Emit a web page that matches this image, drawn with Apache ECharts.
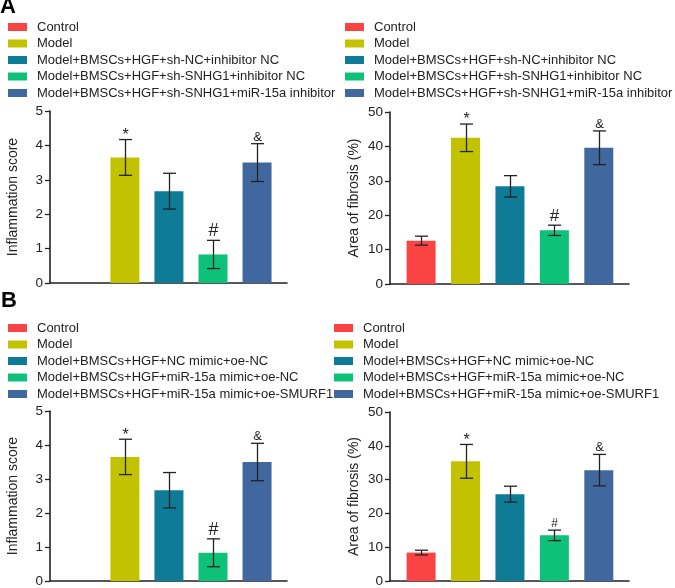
<!DOCTYPE html>
<html>
<head>
<meta charset="utf-8">
<script src="https://cdn.jsdelivr.net/npm/echarts@6/dist/echarts.min.js"></script>
<style>
html, body { margin: 0; padding: 0; background: #fff; }
#chart { width: 675px; height: 588px; }
</style>
</head>
<body>
<div id="chart"></div>
<script>
// groups shown in the legends
var groupsA = ['Control', 'Model', 'Model+BMSCs+HGF+sh-NC+inhibitor NC',
	'Model+BMSCs+HGF+sh-SNHG1+inhibitor NC', 'Model+BMSCs+HGF+sh-SNHG1+miR-15a inhibitor'];
var groupsB = ['Control', 'Model', 'Model+BMSCs+HGF+NC mimic+oe-NC',
	'Model+BMSCs+HGF+miR-15a mimic+oe-NC', 'Model+BMSCs+HGF+miR-15a mimic+oe-SMURF1'];
var colors = ['#FA4444', '#C2C200', '#0E7C97', '#0DC179', '#41679F'];

// mean and SD (null = no bar)
var inflMeanA = [null, 3.65, 2.67, 0.83, 3.50];
var inflSdA = [null, 0.52, 0.52, 0.41, 0.55];
var fibMeanA = [12.6, 42.5, 28.4, 15.6, 39.6];
var fibSdA = [1.3, 4.0, 3.1, 1.5, 4.9];
var inflMeanB = [null, 3.65, 2.67, 0.83, 3.50];
var inflSdB = [null, 0.52, 0.52, 0.41, 0.55];
var fibMeanB = [8.4, 35.4, 25.7, 13.5, 32.8];
var fibSdB = [0.7, 5.0, 2.35, 1.55, 4.65];
var marks = ['', '*', '', '#', '&'];

var font = 'Liberation Sans, Arial, Helvetica, sans-serif';
var ink = '#222';

var panels = [
	{ groups: groupsA, mean: inflMeanA, sd: inflSdA, yMax: 5, yStep: 1, name: 'Inflammation score',
	  grid: { left: 50, top: 111, width: 237, height: 172 }, legend: { left: 8, top: 19 },
	  nameGap: 30, markSize: { '*': 16, '#': 18, '&': 13 } },
	{ groups: groupsA, mean: fibMeanA, sd: fibSdA, yMax: 50, yStep: 10, name: 'Area of fibrosis (%)',
	  grid: { left: 390, top: 112, width: 239, height: 172 }, legend: { left: 345, top: 19 },
	  nameGap: 29, markSize: { '*': 16, '#': 17, '&': 13 } },
	{ groups: groupsB, mean: inflMeanB, sd: inflSdB, yMax: 5, yStep: 1, name: 'Inflammation score',
	  grid: { left: 50, top: 411, width: 237, height: 172 }, legend: { left: 8, top: 320 },
	  nameGap: 30, markSize: { '*': 16, '#': 18, '&': 13 } },
	{ groups: groupsB, mean: fibMeanB, sd: fibSdB, yMax: 50, yStep: 10, name: 'Area of fibrosis (%)',
	  grid: { left: 390, top: 412, width: 239, height: 171 }, legend: { left: 334, top: 320 },
	  nameGap: 29, markSize: { '*': 16, '#': 12, '&': 13 } }
];

function errorBars(p) {
	return function (params, api) {
		var x = api.value(0), m = api.value(1), s = api.value(2);
		var top = api.coord([x, m + s]);
		var bot = api.coord([x, m - s]);
		var cx = Math.round(top[0]) + 0.5, hw = 6.5;
		var ls = { stroke: ink, lineWidth: 1.3 };
		var kids = [
			{ type: 'line', shape: { x1: cx, y1: top[1], x2: cx, y2: bot[1] }, style: ls },
			{ type: 'line', shape: { x1: cx - hw, y1: top[1], x2: cx + hw, y2: top[1] }, style: ls },
			{ type: 'line', shape: { x1: cx - hw, y1: bot[1], x2: cx + hw, y2: bot[1] }, style: ls }
		];
		var mk = marks[x];
		if (mk) {
			kids.push({
				type: 'text',
				style: {
					text: mk, x: cx, y: top[1] + (mk === '*' ? 4 : 0),
					align: 'center', verticalAlign: 'bottom',
					fontSize: p.markSize[mk], fontFamily: font, fill: ink
				}
			});
		}
		return { type: 'group', children: kids };
	};
}

var axisLine = { show: true, onZero: false, lineStyle: { color: ink, width: 1.6 } };
var option = {
	animation: false,
	backgroundColor: '#fff',
	title: [
		{ text: 'A', left: 0, top: -4, padding: 0, textStyle: { fontSize: 22, fontWeight: 'bold', color: '#000', fontFamily: font } },
		{ text: 'B', left: 1, top: 290, padding: 0, textStyle: { fontSize: 22, fontWeight: 'bold', color: '#000', fontFamily: font } }
	],
	grid: [], xAxis: [], yAxis: [], legend: [], series: []
};

panels.forEach(function (p, i) {
	option.grid.push(p.grid);
	option.xAxis.push({
		type: 'value', gridIndex: i, min: -0.7, max: 4.68,
		axisLine: axisLine, axisTick: { show: false }, axisLabel: { show: false }, splitLine: { show: false }
	});
	option.yAxis.push({
		type: 'value', gridIndex: i, min: 0, max: p.yMax, interval: p.yStep,
		name: p.name, nameLocation: 'middle', nameGap: p.nameGap,
		nameTextStyle: { fontSize: 14, color: ink, fontFamily: font },
		axisLine: axisLine,
		axisTick: { show: true, length: 5, lineStyle: { color: ink, width: 1.3 } },
		axisLabel: { fontSize: 13.5, color: ink, margin: 7, fontFamily: font },
		splitLine: { show: false }
	});
	option.legend.push({
		orient: 'vertical', left: p.legend.left, top: p.legend.top, padding: 0,
		data: p.groups, icon: 'rect', itemWidth: 19, itemHeight: 8, itemGap: 0.5,
		selectedMode: false,
		textStyle: { fontSize: 13, color: ink, fontFamily: font, lineHeight: 16, padding: [0, 0, 0, 5] }
	});
	p.groups.forEach(function (g, j) {
		option.series.push({
			type: 'bar', name: g, xAxisIndex: i, yAxisIndex: i,
			barWidth: 29, barGap: '-100%', silent: true,
			itemStyle: { color: colors[j] },
			data: p.mean[j] == null ? [] : [[j, p.mean[j]]]
		});
	});
	var rows = [];
	p.mean.forEach(function (m, j) {
		if (m != null) rows.push([j, m, p.sd[j]]);
	});
	option.series.push({
		type: 'custom', xAxisIndex: i, yAxisIndex: i, z: 5, silent: true,
		encode: { x: 0, y: 1 }, renderItem: errorBars(p), data: rows
	});
});

var chart = echarts.init(document.getElementById('chart'));
chart.setOption(option);
</script>
</body>
</html>
